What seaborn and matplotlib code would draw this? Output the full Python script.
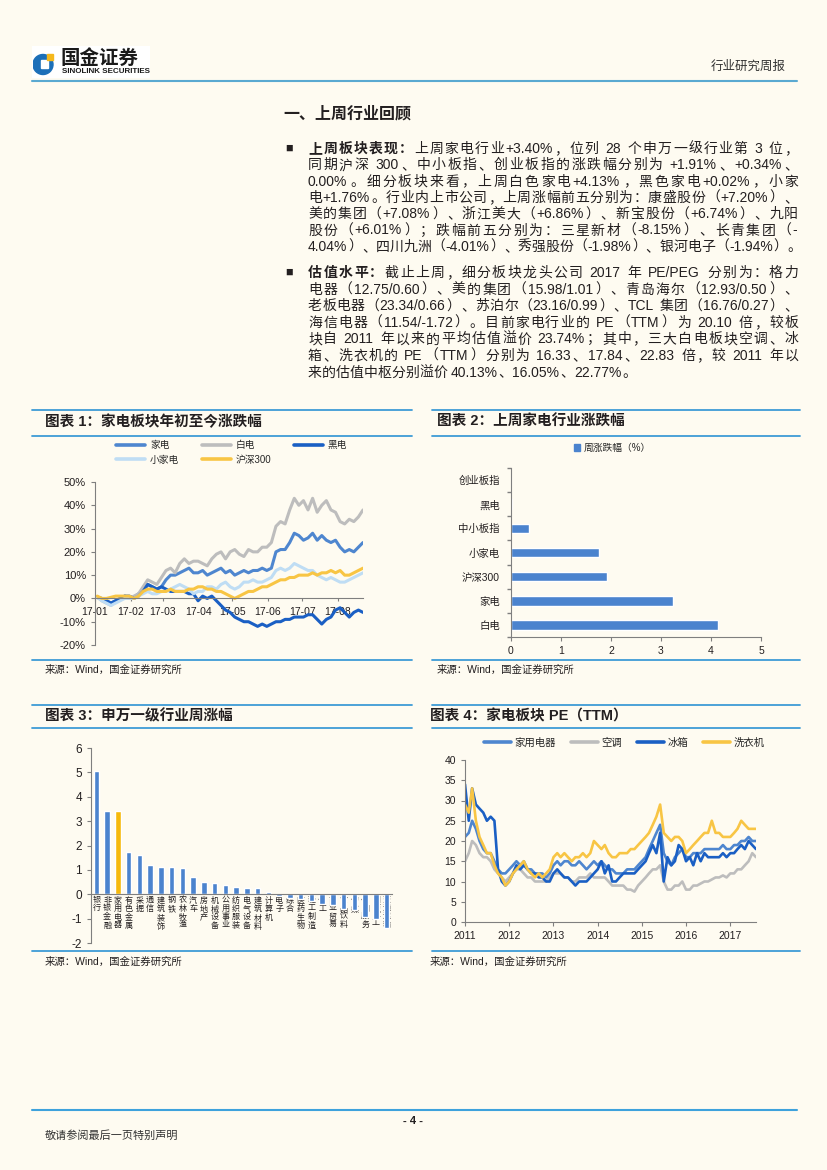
import re
import numpy as np
import pandas as pd
import matplotlib
matplotlib.use('Agg')
import matplotlib.pyplot as plt
import matplotlib.dates as mdates
from matplotlib.ticker import FuncFormatter
from matplotlib.patches import Rectangle, Circle, Patch
from matplotlib.lines import Line2D
import seaborn as sns

# ---------------- data ----------------
# Chart 1: YTD change (%) of appliance sub-sectors, 2017
ytd_names = ['家电', '白电', '黑电', '小家电', '沪深300']
ytd_appliance = [0.5, -0.5, -1, -2, -1, 0, 1, 0, 0.5, 2,
                 3, 6, 5, 4, 5, 8, 10, 10, 11, 12,
                 13, 11, 11, 12, 10, 11, 12, 13, 11, 12,
                 10, 11, 12, 11, 12, 12, 13, 12, 13, 20,
                 21, 21, 24, 28, 27, 25, 26, 28, 25, 27,
                 25, 24, 25, 22, 20, 21, 20, 22, 24]
ytd_white = [0.5, -1, -2, -3, -1, 0, 1, 0, 1, 2,
             5, 8, 7, 6, 9, 12, 13, 11, 15, 17,
             15, 16, 16, 15, 14, 17, 19, 20, 17, 20,
             21, 19, 18, 21, 20, 20, 22, 22, 24, 31,
             33, 32, 38, 43, 40, 42, 38, 43, 37, 40,
             42, 38, 37, 33, 32, 34, 33, 35, 38]
ytd_black = [0.5, 0, -1, -2, -1, 0, 1, 1, 0, 1,
             3, 6, 5, 4, 5, 4, 3, 3, 3, 3,
             2, 2, -1, 1, 0, 1, -1, -3, -5, -6,
             -8, -9, -10, -10, -11, -12, -11, -12, -11, -10,
             -10, -9, -9, -8, -8, -8, -7, -7, -9, -11,
             -9, -8, -5, -4, -6, -8, -6, -5, -6]
ytd_small = [0.5, -1, -2, -3, -2, -1, 0, 0, 0, 1,
             2, 3, 2, 2, 3, 3, 4, 5, 6, 5,
             4, 2, 3, 3, 5, 5, 4, 6, 7, 5,
             4, 5, 7, 7, 8, 7, 7, 8, 9, 12,
             13, 12, 13, 15, 14, 13, 12, 12, 10, 9,
             8, 9, 8, 7, 7, 8, 9, 10, 11]
ytd_hs300 = [1, 0, 0, 0.5, 1, 1, 1, 1, 0, 1,
             3, 4, 4, 3, 3, 3, 4, 3, 3, 3,
             4, 4, 5, 5, 4, 4, 3, 3, 2, 1,
             0, 1, 2, 3, 3, 4, 5, 5, 6, 7,
             8, 8, 9, 9, 10, 10, 10, 11, 10, 11,
             11, 12, 11, 12, 10, 10, 11, 12, 13]
ytd_month_labels = ['17-01', '17-02', '17-03', '17-04', '17-05', '17-06', '17-07', '17-08']

# Chart 2: last-week change (%)
week_cats = ['创业板指', '黑电', '中小板指', '小家电', '沪深300', '家电', '白电']
week_vals = [0.00, 0.02, 0.35, 1.76, 1.91, 3.23, 4.13]

# Chart 3: Shenwan level-1 industries weekly change (%)
sw_cats = ['银行', '非银金融', '家用电器', '有色金属', '采掘', '通信', '建筑装饰', '钢铁',
           '农林牧渔', '汽车', '房地产', '机械设备', '公用事业', '纺织服装', '电气设备',
           '建筑材料', '计算机', '电子', '综合', '医药生物', '轻工制造', '化工', '商业贸易',
           '食品饮料', '传媒', '休闲服务', '国防军工', '交通运输']
sw_vals = [5.07, 3.41, 3.40, 1.75, 1.61, 1.21, 1.13, 1.10, 1.09, 0.72, 0.52, 0.48, 0.37,
           0.30, 0.25, 0.25, 0.11, -0.07, -0.15, -0.20, -0.28, -0.40, -0.45, -0.60, -0.65,
           -0.95, -1.00, -1.38]

# Chart 4: PE (TTM), monthly 2011-01 .. 2017-08
pe_names = ['家用电器', '空调', '冰箱', '洗衣机']
pe_appliance = [21, 22, 25, 23, 20, 18, 17, 17, 15, 13, 12, 12,
                13, 14, 15, 14, 15, 13, 13, 12, 12, 12, 11, 12,
                14, 15, 14, 15, 15, 14, 14, 15, 14, 13, 14, 15,
                14, 15, 14, 13, 13, 12, 12, 12, 13, 13, 13, 14,
                15, 16, 18, 20, 22, 24, 17, 15, 14, 16, 17, 18,
                16, 16, 17, 17, 17, 18, 18, 18, 18, 18, 19, 18,
                18, 19, 19, 20, 20, 21, 20, 20]
pe_ac = [15, 17, 20, 19, 17, 16, 16, 15, 13, 12, 11, 10,
         11, 12, 13, 13, 12, 11, 11, 10, 10, 10, 10, 11,
         12, 12, 12, 11, 11, 10, 10, 11, 11, 11, 12, 11,
         11, 11, 11, 10, 9, 9, 9, 9, 8, 8, 7.5, 9,
         10, 11, 12, 13, 13, 14, 10, 8, 8, 9, 9, 10,
         8, 8, 9, 9, 9.5, 10, 10, 10.5, 11, 11, 11.5, 11,
         12, 12, 13, 13, 14, 15, 17, 16]
pe_fridge = [34, 25, 33, 29, 28, 27, 25, 26, 25, 13, 10, 9,
             10, 12, 14, 13, 14, 13, 12, 12, 11, 11, 10, 10,
             12, 13, 12, 11, 11, 10, 9, 10, 10, 10, 11, 12,
             13, 15, 12, 14, 10, 10, 11, 12, 12, 12, 12, 13,
             14, 15, 17, 19, 17, 22, 10, 16, 14, 15, 19, 18,
             15, 16, 14, 17, 15, 17, 16, 16, 16, 16, 17, 16,
             17, 17, 18, 19, 18, 20, 19, 18]
pe_washer = [29, 27, 33, 25, 21, 19, 17, 17, 14, 12, 11, 9,
             10, 12, 13, 14, 15, 13, 12, 11, 12, 11, 12, 13,
             16, 17, 16, 17, 16, 15, 16, 16, 17, 16, 17, 20,
             19, 18, 19, 17, 16, 16, 17, 17, 17, 18, 18, 19,
             20, 21, 22, 24, 26, 29, 22, 21, 20, 21, 21, 20,
             17, 18, 19, 20, 21, 22, 22, 25, 22, 22, 21, 21,
             21, 22, 23, 25, 24, 23, 23, 23]

# page text
para1 = [
    [('上周板块表现：', 'bold'), ('上周家电行业+3.40%，位列 28 个申万一级行业第 3 位，', 'normal')],
    [('同期沪深 300、中小板指、创业板指的涨跌幅分别为 +1.91%、+0.34%、', 'normal')],
    [('0.00%。细分板块来看，上周白色家电+4.13%，黑色家电+0.02%，小家', 'normal')],
    [('电+1.76%。行业内上市公司，上周涨幅前五分别为：康盛股份（+7.20%）、', 'normal')],
    [('美的集团（+7.08%）、浙江美大（+6.86%）、新宝股份（+6.74%）、九阳', 'normal')],
    [('股份（+6.01%）；跌幅前五分别为：三星新材（-8.15%）、长青集团（-', 'normal')],
    [('4.04%）、四川九洲（-4.01%）、秀强股份（-1.98%）、银河电子（-1.94%）。', 'normal')],
]
para2 = [
    [('估值水平：', 'bold'), ('截止上周，细分板块龙头公司 2017 年 PE/PEG 分别为：格力', 'normal')],
    [('电器（12.75/0.60）、美的集团（15.98/1.01）、青岛海尔（12.93/0.50）、', 'normal')],
    [('老板电器（23.34/0.66）、苏泊尔（23.16/0.99）、TCL 集团（16.76/0.27）、', 'normal')],
    [('海信电器（11.54/-1.72）。目前家电行业的 PE（TTM）为 20.10 倍，较板', 'normal')],
    [('块自 2011 年以来的平均估值溢价 23.74%；其中，三大白电板块空调、冰', 'normal')],
    [('箱、洗衣机的 PE（TTM）分别为 16.33、17.84、22.83 倍，较 2011 年以', 'normal')],
    [('来的估值中枢分别溢价 40.13%、16.05%、22.77%。', 'normal')],
]

# ---------------- style ----------------
sns.set_theme(style='ticks')
FAM = ['Liberation Sans', 'Noto Sans CJK SC']
plt.rcParams['font.family'] = FAM
plt.rcParams['axes.unicode_minus'] = False

W, H = 827, 1170
BG = '#FEFBF1'
TXT = '#231F20'
LINEC = '#3E9BD6'
AXC = '#7F7F7F'
C_MID = '#4E86CF'
C_GREY = '#BDBDBD'
C_DARK = '#1A5FC4'
C_LIGHT = '#BFDDF4'
C_YEL = '#F8C544'
C_BAR = '#4B83CE'
C_HL = '#F6B90B'

fig = plt.figure(figsize=(W / 100, H / 100), dpi=100, facecolor=BG)


def fx(x):
    return x / W


def fy(y):
    return 1 - y / H


def rect(l, t, r, b):
    return [l / W, 1 - b / H, (r - l) / W, (b - t) / H]


def hline(x0, x1, y, color=LINEC, lw=1.3):
    fig.add_artist(Line2D([fx(x0), fx(x1)], [fy(y), fy(y)], color=color, lw=lw,
                          transform=fig.transFigure))


def style_axes(ax):
    ax.set_facecolor('none')
    for s in ['top', 'right']:
        ax.spines[s].set_visible(False)
    for s in ['left', 'bottom']:
        ax.spines[s].set_color(AXC)
        ax.spines[s].set_linewidth(0.8)
    ax.tick_params(colors=AXC, labelcolor=TXT, width=0.8, length=3)
    ax.set_xlabel('')
    ax.set_ylabel('')


# ---------------- header ----------------
fig.add_artist(Rectangle((fx(32), fy(78)), (150 - 32) / W, (78 - 46) / H,
                         transform=fig.transFigure, facecolor='white', edgecolor='none',
                         zorder=-5))
lax = fig.add_axes(rect(33, 49, 57, 77))
lax.set_xlim(0, 24)
lax.set_ylim(0, 28)
lax.axis('off')
lax.add_patch(Circle((10, 12.5), 10, color='#1C6FB8'))
lax.add_patch(Rectangle((8, 9), 7, 8, color='white'))
lax.add_patch(Rectangle((13.5, 17), 6, 6, color='#F5B81C'))
fig.text(fx(61), fy(58), '国金证券', fontsize=14, fontweight='bold', color='#1a1a1a',
         va='center', ha='left')
fig.text(fx(62), fy(71.5), 'SINOLINK SECURITIES', fontsize=5.8, fontweight='bold', color='#1a1a1a',
         va='center', ha='left')
fig.text(fx(786), fy(67), '行业研究周报', fontsize=9, color='#333333', va='center', ha='right')
hline(32, 797, 81, color='#5AA9D1', lw=1.5)

# ---------------- body text ----------------
renderer = fig.canvas.get_renderer()
FS = 10
EM = FS * 100 / 72


def toks(s):
    return re.findall(r'[!-~]+|\s+|.', s)


_a = fig.text(0, 0, 'a a', fontsize=FS)
_b = fig.text(0, 0, 'aa', fontsize=FS)
SPACE_W = _a.get_window_extent(renderer).width - _b.get_window_extent(renderer).width
_a.remove()
_b.remove()


def put_line(segs, x0, x1, y, justify=True):
    items = []
    for s, wt in segs:
        for t in toks(s):
            if t.isspace():
                items.append([None, SPACE_W * len(t)])
            else:
                o = fig.text(0, fy(y), t, fontsize=FS, fontweight=wt, ha='left',
                             va='baseline', color=TXT)
                if re.fullmatch(r'[!-~]+', t):
                    w = o.get_window_extent(renderer).width + 0.8
                else:
                    w = EM
                items.append([o, w])
    total = sum(w for _, w in items)
    n = len(items)
    gap = (x1 - x0 - total) / (n - 1) if (justify and n > 1) else 0.0
    x = x0
    for o, w in items:
        if o is not None:
            o.set_x(fx(x))
        x += w + gap


fig.text(fx(283), fy(114), '一、上周行业回顾', fontsize=11.5, fontweight='bold', color=TXT,
         va='center', ha='left')
X0, X1 = 308, 798
for i, segs in enumerate(para1):
    put_line(segs, X0, X1, 153 + 16.3 * i, justify=(i < len(para1) - 1))
for i, segs in enumerate(para2):
    put_line(segs, X0, X1, 277 + 16.6 * i, justify=(i < len(para2) - 1))
fig.text(fx(285), fy(149), '■', fontsize=9, color=TXT, va='center', ha='left')
fig.text(fx(285), fy(273), '■', fontsize=9, color=TXT, va='center', ha='left')

# ---------------- frames / titles ----------------
for (l, r) in [(32, 412), (432, 800)]:
    hline(l, r, 410)
    hline(l, r, 436)
    hline(l, r, 660)
    hline(l, r, 705)
    hline(l, r, 728)
    hline(l, r, 951)
TFS = 10.5
fig.text(fx(45), fy(422), '图表 1：家电板块年初至今涨跌幅', fontsize=TFS, fontweight='bold',
         color=TXT, va='center', ha='left')
fig.text(fx(437), fy(422), '图表 2：上周家电行业涨跌幅', fontsize=TFS, fontweight='bold',
         color=TXT, va='center', ha='left')
fig.text(fx(45), fy(716), '图表 3：申万一级行业周涨幅', fontsize=TFS, fontweight='bold',
         color=TXT, va='center', ha='left')
fig.text(fx(430), fy(716), '图表 4：家电板块 PE（TTM）', fontsize=TFS, fontweight='bold',
         color=TXT, va='center', ha='left')
for (x, y) in [(45, 670), (437, 670), (45, 962), (430, 962)]:
    fig.text(fx(x), fy(y), '来源：Wind，国金证券研究所', fontsize=7.5, color=TXT,
             va='center', ha='left')

# ---------------- chart 1 ----------------
ax1 = fig.add_axes(rect(95, 482, 363, 645))
d1 = pd.date_range('2017-01-03', periods=len(ytd_appliance), freq='4D')
series1 = [(ytd_names[0], ytd_appliance, C_MID), (ytd_names[1], ytd_white, C_GREY),
           (ytd_names[2], ytd_black, C_DARK), (ytd_names[3], ytd_small, C_LIGHT),
           (ytd_names[4], ytd_hs300, C_YEL)]
handles1 = {}
for name, vals, col in series1:
    sns.lineplot(x=d1, y=vals, color=col, lw=2.2, ax=ax1, legend=False)
    handles1[name] = Line2D([], [], color=col, lw=2.6)
style_axes(ax1)
ax1.set_ylim(-20, 50)
ax1.set_yticks(range(-20, 51, 10))
ax1.yaxis.set_major_formatter(FuncFormatter(lambda v, p: f'{v:.0f}%'))
ax1.set_xlim(pd.Timestamp('2017-01-01'), d1[-1])
mt = pd.date_range('2017-01-01', periods=len(ytd_month_labels), freq='MS')
ax1.set_xticks(mt)
ax1.set_xticklabels(ytd_month_labels)
ax1.spines['bottom'].set_position(('data', 0))
ax1.tick_params(axis='x', labelsize=7.5, length=2, pad=4)
ax1.tick_params(axis='y', labelsize=8)
order1 = ['家电', '小家电', '白电', '沪深300', '黑电']
ax1.legend([handles1[n] for n in order1], order1, ncol=3, frameon=False,
           loc='upper left', bbox_to_anchor=(fx(116), fy(440)), bbox_transform=fig.transFigure,
           fontsize=7, handlelength=3.0, handletextpad=0.5, columnspacing=2.3,
           labelspacing=0.5, borderpad=0, borderaxespad=0)

# ---------------- chart 2 ----------------
ax2 = fig.add_axes(rect(511, 468, 761, 637))
sns.barplot(x=week_vals, y=week_cats, orient='h', color=C_BAR, saturation=1, width=0.4, ax=ax2)
style_axes(ax2)
ax2.set_xlim(0, 5)
ax2.set_ylim(len(week_cats) - 0.5, -0.5)
ax2.set_xticks(range(0, 6))
ax2.set_yticks(np.arange(-0.5, len(week_cats), 1), minor=True)
ax2.tick_params(axis='y', which='major', length=0, labelsize=7.5, pad=8)
ax2.tick_params(axis='y', which='minor', length=3, color=AXC)
ax2.tick_params(axis='x', labelsize=7.5)
ax2.legend([Patch(color=C_BAR)], ['周涨跌幅（%）'], frameon=False, loc='center',
           bbox_to_anchor=(fx(612), fy(448)), bbox_transform=fig.transFigure,
           fontsize=7, handlelength=0.7, handleheight=0.7, handletextpad=0.3,
           borderpad=0, borderaxespad=0)

# ---------------- chart 3 ----------------
ax3 = fig.add_axes(rect(91, 748, 392, 943))
pal3 = {c: (C_HL if c == '家用电器' else C_BAR) for c in sw_cats}
sns.barplot(x=sw_cats, y=sw_vals, hue=sw_cats, palette=pal3, saturation=1, width=0.5,
            dodge=False, legend=False, ax=ax3)
style_axes(ax3)
ax3.set_ylim(-2, 6)
ax3.set_yticks(range(-2, 7))
ax3.set_xlim(-0.5, len(sw_cats) - 0.5)
ax3.spines['bottom'].set_position(('data', 0))
ax3.set_xticks(range(len(sw_cats)))
ax3.set_xticklabels(['\n'.join(c) for c in sw_cats], fontsize=5.8, linespacing=1.1)
ax3.tick_params(axis='x', length=0, pad=2)
ax3.tick_params(axis='y', labelsize=8.5)

# ---------------- chart 4 ----------------
ax4 = fig.add_axes(rect(465, 760, 756, 922))
d4 = pd.date_range('2011-01-01', periods=len(pe_appliance), freq='MS')
series4 = [(pe_names[0], pe_appliance, C_MID), (pe_names[1], pe_ac, C_GREY),
           (pe_names[2], pe_fridge, C_DARK), (pe_names[3], pe_washer, C_YEL)]
handles4 = []
for name, vals, col in series4:
    sns.lineplot(x=d4, y=vals, color=col, lw=1.9, ax=ax4, legend=False)
    handles4.append(Line2D([], [], color=col, lw=2.6))
style_axes(ax4)
ax4.set_ylim(0, 40)
ax4.set_yticks(range(0, 41, 5))
ax4.set_xlim(d4[0], d4[-1])
ax4.set_xticks(pd.to_datetime([f'{y}-01-01' for y in range(2011, 2018)]))
ax4.xaxis.set_major_formatter(mdates.DateFormatter('%Y'))
ax4.tick_params(labelsize=7.5)
ax4.legend(handles4, pe_names, ncol=4, frameon=False, loc='center left',
           bbox_to_anchor=(fx(484), fy(743)), bbox_transform=fig.transFigure,
           fontsize=7.5, handlelength=2.6, handletextpad=0.35, columnspacing=1.4,
           borderpad=0, borderaxespad=0)

# ---------------- footer ----------------
hline(32, 797, 1110, color='#3EA2DC', lw=1.5)
fig.text(fx(413), fy(1121), '- 4 -', fontsize=8, fontweight='bold', color=TXT,
         va='center', ha='center')
fig.text(fx(45), fy(1136), '敬请参阅最后一页特别声明', fontsize=8, color='#333333',
         va='center', ha='left')

fig.savefig('out.png', dpi=100, facecolor=BG)
